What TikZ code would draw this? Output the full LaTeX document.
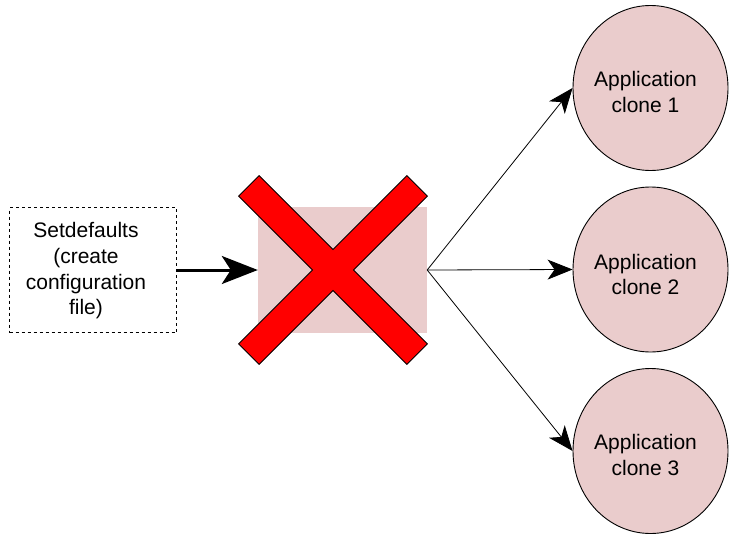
\documentclass[tikz,border=0pt]{standalone}
\usepackage{fontspec}
\setmainfont{Liberation Sans}
\usetikzlibrary{shapes.geometric,arrows.meta}
\definecolor{pinkfill}{RGB}{234,204,204}
\definecolor{xred}{RGB}{255,0,0}
\tikzset{
  txt/.style={font=\fontsize{21}{25.7}\selectfont, align=center, inner sep=0pt},
  cfgbox/.style={draw=black, dashed, dash pattern=on 3pt off 3pt, line width=0.8pt, minimum width=167pt, minimum height=125pt, inner sep=0pt},
  hidebox/.style={fill=pinkfill, draw=none, minimum width=169pt, minimum height=126pt, inner sep=0pt},
  clone/.style={ellipse, fill=pinkfill, draw=black, line width=0.9pt, minimum width=155pt, minimum height=165pt, inner sep=0pt},
  bigarrow/.style={line width=3pt, -{Stealth[length=36pt, width=28pt, inset=9pt]}},
  thinarrow/.style={line width=0.8pt, -{Stealth[length=25pt, width=20pt, inset=7pt]}},
  cross/.style={fill=xred, draw=black, line width=0.8pt, line join=miter}
}
\begin{document}
\begin{tikzpicture}[x=1pt, y=-1pt]
\useasboundingbox (0,0) rectangle (730,535);
\node[cfgbox, label={[txt, xshift=-7pt, yshift=-1pt]center:Setdefaults\\(create\\configuration\\file)}] (cfg) at (93,270) {};
\node[hidebox] (sq) at (342.5,270) {};
\node[clone, label={[txt, xshift=-5pt, yshift=-4pt]center:Application\\clone 1}] (c1) at (650.5,88) {};
\node[clone, label={[txt, xshift=-5pt, yshift=-5pt]center:Application\\clone 2}] (c2) at (650.5,269.5) {};
\node[clone, label={[txt, xshift=-5pt, yshift=-4pt]center:Application\\clone 3}] (c3) at (650.5,451) {};
\draw[bigarrow] (cfg.east) -- (sq.west);
\draw[thinarrow] (sq.east) -- (c1.west);
\draw[thinarrow] (sq.east) -- (c2.west);
\draw[thinarrow] (sq.east) -- (c3.west);
\begin{scope}[shift={(333,270)}, rotate=45]
\draw[cross] (119,14.5) -- (14.5,14.5) -- (14.5,119) -- (-14.5,119) -- (-14.5,14.5) -- (-119,14.5)
  -- (-119,-14.5) -- (-14.5,-14.5) -- (-14.5,-119) -- (14.5,-119) -- (14.5,-14.5) -- (119,-14.5) -- cycle;
\end{scope}
\end{tikzpicture}
\end{document}
